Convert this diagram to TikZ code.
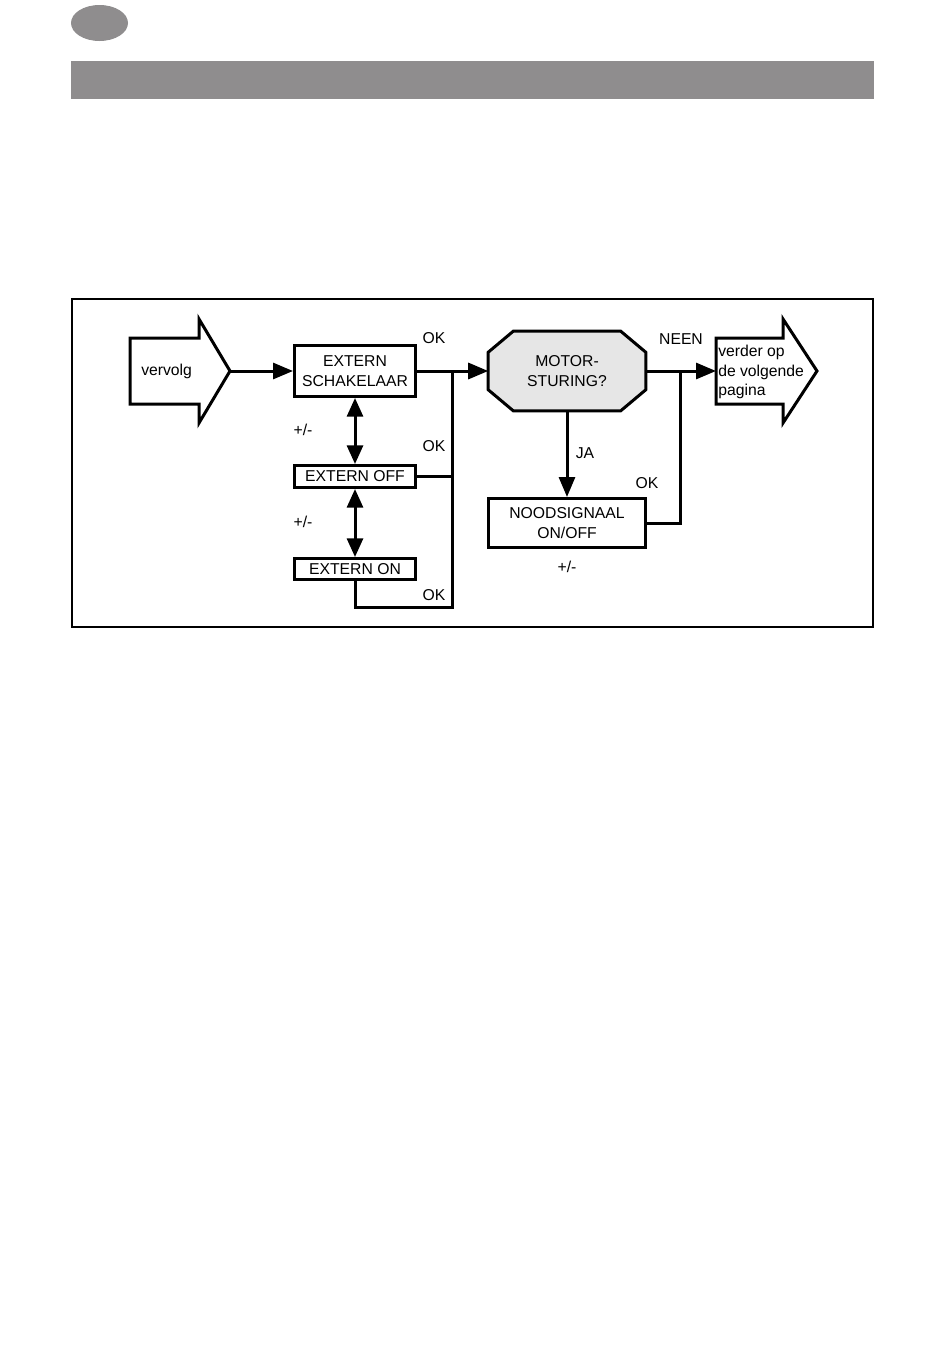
\documentclass[tikz,border=0pt]{standalone}
\usepackage{fontspec}
\setmainfont{Liberation Sans}
\usetikzlibrary{arrows.meta,backgrounds}
\definecolor{balk}{HTML}{8F8D8E}
\definecolor{vraagkleur}{HTML}{E6E6E6}
\begin{document}
\begin{tikzpicture}[
    x=0.75pt, y=-0.75pt,
    every node/.style={font=\fontsize{11.8}{14.6}\selectfont, inner sep=0pt},
    stap/.style={draw, line width=2.25pt, minimum width=90.75pt, align=center},
    vraag/.style={minimum width=117.75pt, minimum height=59.25pt, align=center},
    lijn/.style={line width=2.25pt},
    pijl/.style={lijn, -{Triangle[length=15pt,width=12pt]}},
    dubbel/.style={lijn, {Triangle[length=14pt,width=12pt]}-{Triangle[length=14pt,width=12pt]}},
    groot/.style={line width=2.25pt, line join=miter}
  ]
    \useasboundingbox (0,0) rectangle (950,1356);
    \fill[balk] (99.5,23) ellipse [x radius=28.5, y radius=18];
    \fill[balk] (71,61) rectangle (874,99);
    \draw[line width=1.5pt] (72,299) rectangle (873,627);

    \draw[groot] (130,338) -- (199,338) -- (199,319) -- (230,371) -- (199,423) -- (199,404) -- (130,404) -- cycle;
    \draw[groot] (716,338) -- (783,338) -- (783,319) -- (817,371) -- (783,423) -- (783,404) -- (716,404) -- cycle;
    \node[anchor=west] (vervolg) at (141,371) {vervolg};
    \node[anchor=west, align=left] (verder) at (718,372) {verder op\\de volgende\\pagina};
    \coordinate (vtip) at (230,371);
    \coordinate (vstaart) at (716,371);

    \node[stap, minimum height=38.25pt] (schakel) at (355,371) {EXTERN\\SCHAKELAAR};
    \node[stap, minimum height=16.5pt] (extoff) at (355,476.5) {EXTERN OFF};
    \node[stap, minimum height=15.75pt] (exton) at (355,569) {EXTERN ON};
    \node[vraag] (motor) at (567,371) {MOTOR-\\STURING?};
    \node[stap, minimum width=117.75pt, minimum height=36.75pt] (nood) at (567,523) {NOODSIGNAAL\\ON/OFF};
    \begin{scope}[on background layer]
      \draw[groot, fill=vraagkleur] ([xshift=18.75pt]motor.north west) -- ([xshift=-18.75pt]motor.north east)
        -- ([yshift=-15.75pt]motor.north east) -- ([yshift=15.75pt]motor.south east)
        -- ([xshift=-18.75pt]motor.south east) -- ([xshift=18.75pt]motor.south west)
        -- ([yshift=15.75pt]motor.south west) -- ([yshift=-15.75pt]motor.north west) -- cycle;
    \end{scope}

    \coordinate (j1) at (452,371);
    \coordinate (jbot) at (452,607);
    \coordinate (j2) at (680,371);

    \draw[pijl] (vtip) -- (schakel);
    \draw[pijl] (schakel) -- (motor);
    \draw[lijn] (extoff.east) -- (extoff.east -| j1);
    \draw[lijn] (exton.south) |- (jbot) -- (j1);
    \draw[dubbel] (schakel) -- (extoff);
    \draw[dubbel] (extoff) -- (exton);
    \draw[pijl] (motor) -- (vstaart);
    \draw[pijl] (motor) -- (nood);
    \draw[lijn] (nood.east) -| (j2);

    \node (ok1) at (434,338) {OK};
    \node (ok2) at (434,446) {OK};
    \node (ok3) at (434,595) {OK};
    \node (ok4) at (647,483) {OK};
    \node (pm1) at (303,430) {+/-};
    \node (pm2) at (303,522) {+/-};
    \node (pm3) at (567,567) {+/-};
    \node (ja) at (585,453) {JA};
    \node (neen) at (681,339) {NEEN};
\end{tikzpicture}
\end{document}
